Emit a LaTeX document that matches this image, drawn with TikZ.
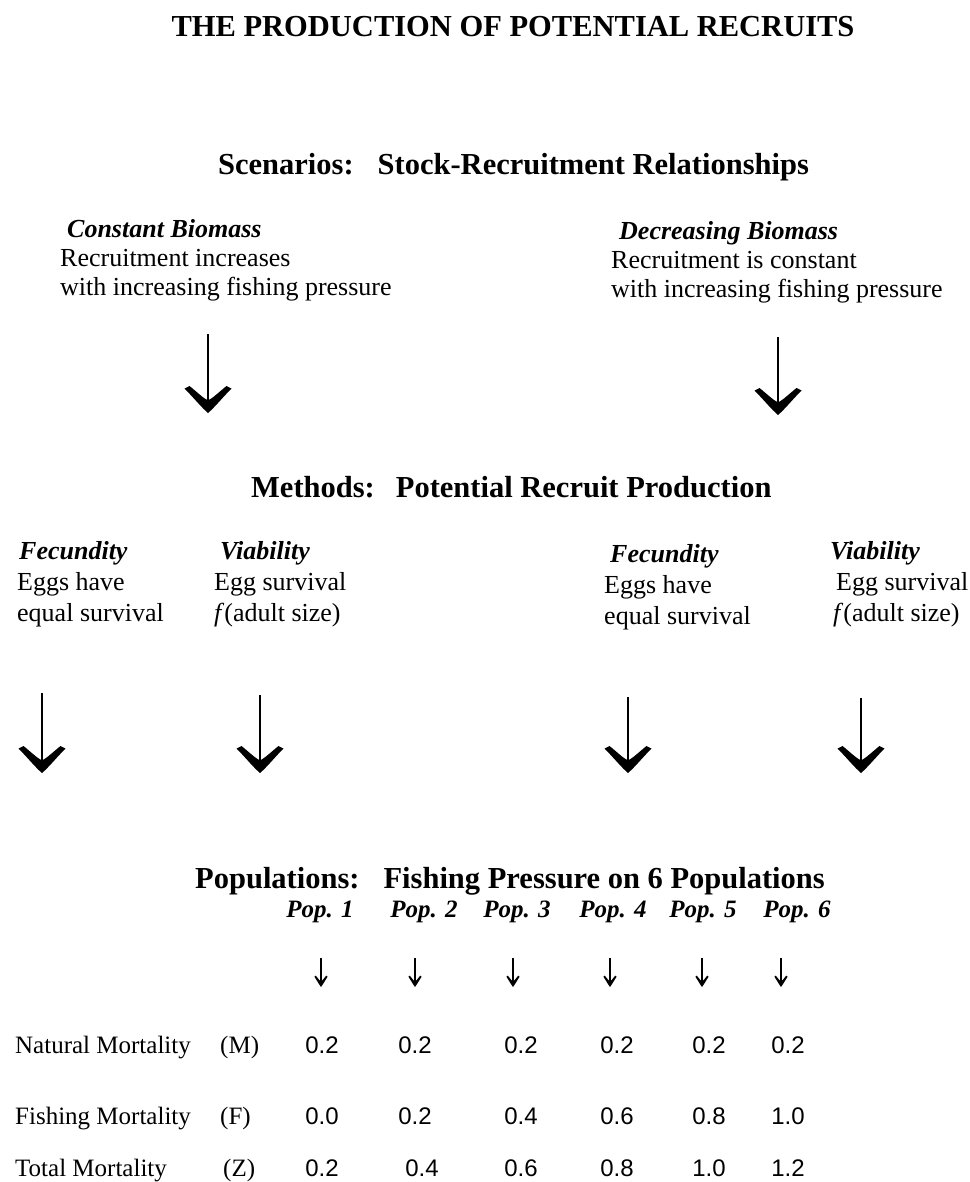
\documentclass[tikz,border=0pt]{standalone}
\usepackage{fontspec}
\setmainfont{Liberation Serif}
\newfontfamily\numfont{Liberation Sans}
\usetikzlibrary{arrows.meta}

\newdimen\bvx \bvx=1pt
\newdimen\bvy \bvy=1pt
\newdimen\svx \svx=0.42pt
\newdimen\svy \svy=0.28pt

\newcommand\mkVtip[3]{%
\pgfdeclarearrow{
  name = #1,
  setup code = {
    \pgfarrowssettipend{0pt}
    \pgfarrowssetlineend{-11#2}
    \pgfarrowssetvisualbackend{-13#2}
    \pgfarrowssetbackend{-27#2}
    \pgfarrowshullpoint{0pt}{0pt}
    \pgfarrowshullpoint{-27#2}{23.5#3}
    \pgfarrowshullpoint{-27#2}{-23.5#3}
  },
  drawing code = {
    \pgfpathmoveto{\pgfpointorigin}
    \pgfpathcurveto{\pgfqpoint{-6#2}{7#3}}{\pgfqpoint{-16#2}{15#3}}{\pgfqpoint{-24.5#2}{23.5#3}}
    \pgfpathlineto{\pgfqpoint{-27#2}{18.5#3}}
    \pgfpathcurveto{\pgfqpoint{-21#2}{11#3}}{\pgfqpoint{-15#2}{5#3}}{\pgfqpoint{-12.5#2}{0pt}}
    \pgfpathcurveto{\pgfqpoint{-15#2}{-5#3}}{\pgfqpoint{-21#2}{-11#3}}{\pgfqpoint{-27#2}{-18.5#3}}
    \pgfpathlineto{\pgfqpoint{-24.5#2}{-23.5#3}}
    \pgfpathcurveto{\pgfqpoint{-16#2}{-15#3}}{\pgfqpoint{-6#2}{-7#3}}{\pgfpointorigin}
    \pgfpathclose
    \pgfusepathqfill
  }
}}
\mkVtip{BigV}{\bvx}{\bvy}
\mkVtip{SmallV}{\svx}{\svy}

\tikzset{
  ttl/.style={anchor=base, inner sep=0pt, font=\fontsize{30.5}{36}\selectfont\bfseries},
  hd/.style={anchor=base west, inner sep=0pt, font=\fontsize{30.5}{36}\selectfont\bfseries},
  sub/.style={anchor=base west, inner sep=0pt, font=\fontsize{26}{30}\selectfont\bfseries\itshape},
  body/.style={anchor=base west, inner sep=0pt, font=\fontsize{26}{30}\selectfont},
  pop/.style={anchor=base, inner sep=0pt, font=\fontsize{25}{30}\selectfont\bfseries\itshape},
  lab/.style={anchor=base west, inner sep=0pt, font=\fontsize{25}{30}\selectfont},
  num/.style={anchor=base, inner sep=0pt, font=\fontsize{24}{28}\selectfont\numfont},
  bigarrow/.style={line width=2.6pt, -{BigV}},
  smallarrow/.style={line width=1.5pt, -{SmallV}}
}

\begin{document}
\begin{tikzpicture}[x=1pt,y=-1pt]
\useasboundingbox (0,0) rectangle (969,1182);

\node[ttl] (title) at (513,37) {THE PRODUCTION OF POTENTIAL RECRUITS};

\node[hd] (scen) at (218,175) {Scenarios:\hspace{24pt}Stock-Recruitment Relationships};

\node[sub]  (cb)  at (67,237) {Constant Biomass};
\node[body] (cb1) at (60,266) {Recruitment increases};
\node[body] (cb2) at (60,295) {with increasing fishing pressure};

\node[sub]  (db)  at (619,240) {Decreasing Biomass};
\node[body] (db1) at (611,268) {Recruitment is constant};
\node[body] (db2) at (611,297) {with increasing fishing pressure};

\coordinate (a1s) at (208,334); \coordinate (a1e) at (208,413);
\coordinate (a2s) at (778,337); \coordinate (a2e) at (778,415);
\draw[bigarrow] (a1s) -- (a1e);
\draw[bigarrow] (a2s) -- (a2e);

\node[hd] (meth) at (251,497) {Methods:\hspace{21pt}Potential Recruit Production};

\node[sub]  (f1)  at (19,559) {Fecundity};
\node[body] (f1a) at (17,590) {Eggs have};
\node[body] (f1b) at (17,621) {equal survival};

\node[sub]  (v1)  at (220,559) {Viability};
\node[body] (v1a) at (214,590) {Egg survival};
\node[body] (v1b) at (214,621) {\textit{f}(adult size)};

\node[sub]  (f2)  at (610,562) {Fecundity};
\node[body] (f2a) at (604,593) {Eggs have};
\node[body] (f2b) at (604,624) {equal survival};

\node[sub]  (v2)  at (830,559) {Viability};
\node[body] (v2a) at (836,590) {Egg survival};
\node[body] (v2b) at (833,621) {\textit{f}(adult size)};

\foreach \n/\x/\y in {b1/42/693, b2/260/695, b3/628/697, b4/861/698}{
  \coordinate (\n s) at (\x,\y);
  \coordinate (\n e) at (\x,773);
  \draw[bigarrow] (\n s) -- (\n e);
}

\node[hd] (popl) at (195,888) {Populations:\hspace{24pt}Fishing Pressure on 6 Populations};

\foreach \i/\x/\ax in {1/320/321, 2/424/415, 3/517/513, 4/613/610, 5/703/702, 6/797/781}{
  \node[pop] (p\i) at (\x,917) {Pop. \i};
  \coordinate (s\i s) at (\ax,958);
  \coordinate (s\i e) at (\ax,987);
  \draw[smallarrow] (s\i s) -- (s\i e);
}

\node[lab] (lm) at (15,1053) {Natural Mortality};
\node[lab] (lmk) at (220,1053) {(M)};
\node[lab] (lf) at (15,1124) {Fishing Mortality};
\node[lab] (lfk) at (220,1124) {(F)};
\node[lab] (lz) at (15,1176) {Total Mortality};
\node[lab] (lzk) at (223,1176) {(Z)};

\foreach \v/\x [count=\k] in {0.2/322, 0.2/415, 0.2/521, 0.2/617, 0.2/709, 0.2/788}{
  \node[num] (nm\k) at (\x,1053) {\v};
}
\foreach \v/\x [count=\k] in {0.0/322, 0.2/415, 0.4/521, 0.6/617, 0.8/709, 1.0/788}{
  \node[num] (nf\k) at (\x,1124) {\v};
}
\foreach \v/\x [count=\k] in {0.2/322, 0.4/422, 0.6/521, 0.8/617, 1.0/709, 1.2/788}{
  \node[num] (nz\k) at (\x,1176) {\v};
}
\end{tikzpicture}
\end{document}
